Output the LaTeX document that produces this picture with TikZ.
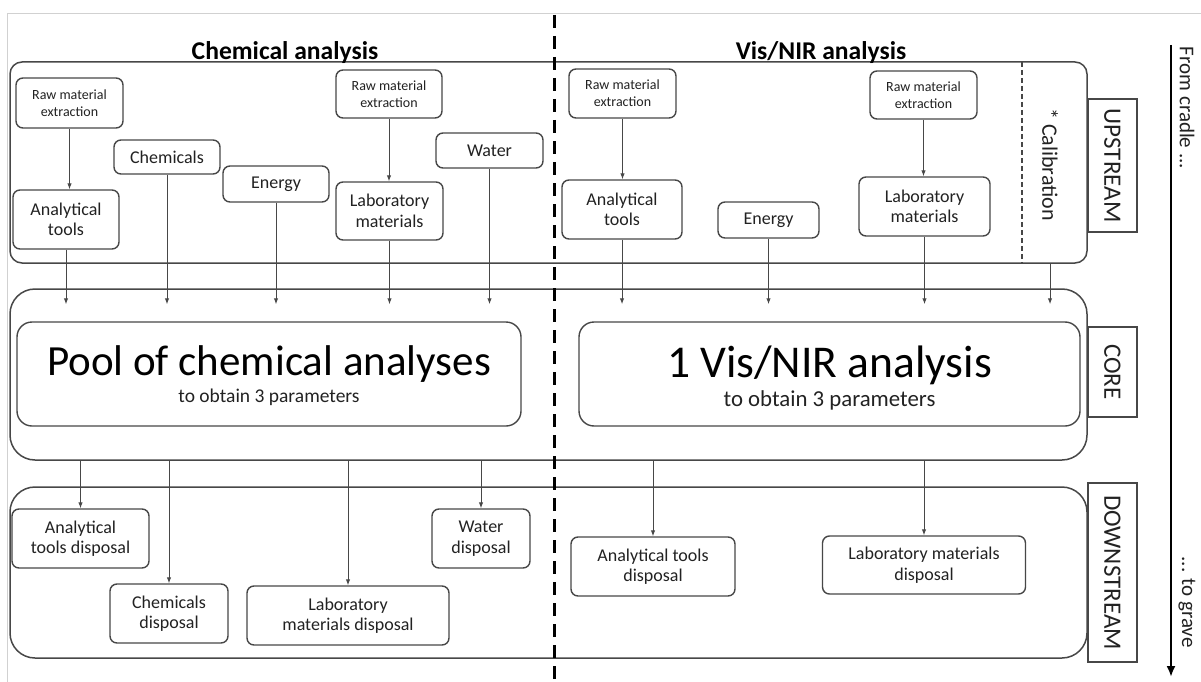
\documentclass[tikz,border=0pt]{standalone}
\usepackage{fontspec}
\setmainfont{Carlito}
\usetikzlibrary{arrows.meta}
\definecolor{ln}{HTML}{474747}
\definecolor{tx}{HTML}{222222}
\begin{document}
\begin{tikzpicture}[x=1pt,y=-1pt,
  box/.style={draw=ln, line width=1.4pt, rounded corners=7pt, inner sep=0pt, align=center, text=tx, font=\fontsize{18}{20.5}\selectfont},
  smallbox/.style={box, font=\fontsize{14}{17}\selectfont},
  cont/.style={draw=ln, line width=1.5pt, inner sep=0pt},
  arr/.style={draw=ln, line width=1pt, -{Latex[length=6pt,width=4.5pt]}},
  lbox/.style={draw=ln, line width=1.4pt, rotate=-90, inner sep=0pt, text=tx, font=\fontsize{25}{28}\selectfont},
  title/.style={anchor=base, text=black, font=\bfseries\fontsize{25.6}{28}\selectfont},
  side/.style={rotate=-90, text=tx, inner sep=0pt, font=\fontsize{21}{23}\selectfont}
]
\useasboundingbox (0,0) rectangle (1201,682);
\fill[white] (0,0) rectangle (1201,682);
\draw[black!18, line width=1pt] (7,682) -- (7,14) -- (1201,14);

% containers
\node[cont, rounded corners=12pt, minimum width=1077pt, minimum height=201pt] (up) at (548.5,162.5) {};
\node[cont, rounded corners=25pt, minimum width=1077pt, minimum height=171pt] (core) at (548.5,374.5) {};
\node[cont, rounded corners=25pt, minimum width=1077pt, minimum height=171pt] (down) at (548.5,572.5) {};

% titles
\node[title] (t1) at (285,60) {Chemical analysis};
\node[title] (t2) at (821,60) {Vis/NIR analysis};

% calibration
\coordinate (calt) at (1022,62);
\coordinate (calb) at (1022,263);
\draw[ln, line width=1.2pt, dash pattern=on 5pt off 3pt] (calt) -- (calb);
\node[side, font=\fontsize{22}{24}\selectfont] (cal) at (1050,164.5) {* Calibration};

% chemical upstream
\node[smallbox, minimum width=107pt, minimum height=50pt] (r1) at (69.5,103) {Raw material\\extraction};
\node[box, minimum width=106pt, minimum height=59pt] (at1) at (66,219.5) {Analytical\\tools};
\node[box, minimum width=106pt, minimum height=34pt] (ch) at (167,157) {Chemicals};
\node[box, minimum width=106pt, minimum height=36pt] (en) at (276,184) {Energy};
\node[smallbox, minimum width=106pt, minimum height=48pt] (r2) at (389,94) {Raw material\\extraction};
\node[box, minimum width=107pt, minimum height=58pt] (lab) at (389.5,211) {Laboratory\\materials};
\node[box, minimum width=107pt, minimum height=35pt] (wa) at (489.5,150.5) {Water};

% vis upstream
\node[smallbox, minimum width=107pt, minimum height=49pt] (vr1) at (622.5,93.5) {Raw material\\extraction};
\node[box, minimum width=120pt, minimum height=59pt] (vat) at (622,209.5) {Analytical\\tools};
\node[box, minimum width=101pt, minimum height=36pt] (ven) at (768.5,220) {Energy};
\node[smallbox, minimum width=107pt, minimum height=48pt] (vr2) at (923.5,95) {Raw material\\extraction};
\node[box, minimum width=131pt, minimum height=59pt] (vlab) at (924.5,206.5) {Laboratory\\materials};

% core
\node[box, rounded corners=15pt, minimum width=504pt, minimum height=104pt] (pool) at (269,374) {};
\node[anchor=base, text=black, font=\fontsize{43}{46}\selectfont] (poolT) at (pool.center |- 0,375) {Pool of chemical analyses};
\node[anchor=base, text=tx, font=\fontsize{19.5}{22}\selectfont] (poolS) at (pool.center |- 0,402.5) {to obtain 3 parameters};
\node[box, rounded corners=15pt, minimum width=501pt, minimum height=104pt] (vis) at (829.5,374) {};
\node[anchor=base, text=black, font=\fontsize{45.5}{48}\selectfont] (visT) at (vis.center |- 0,377) {1 Vis/NIR analysis};
\node[anchor=base, text=tx, font=\fontsize{22.8}{25}\selectfont] (visS) at (vis.center |- 0,406) {to obtain 3 parameters};

% downstream
\node[box, minimum width=137pt, minimum height=59pt] (atd) at (80.5,538.5) {Analytical\\tools disposal};
\node[box, minimum width=118pt, minimum height=59pt] (chd) at (169,613.5) {Chemicals\\disposal};
\node[box, minimum width=202pt, minimum height=59pt] (labd) at (348,615.5) {Laboratory\\materials disposal};
\node[box, minimum width=98pt, minimum height=59pt] (wad) at (481,538.5) {Water\\disposal};
\node[box, minimum width=164pt, minimum height=59pt] (vatd) at (653,566.5) {Analytical tools\\disposal};
\node[box, minimum width=203pt, minimum height=58pt] (vlabd) at (924,565) {Laboratory materials\\disposal};

% stage labels
\node[lbox, minimum width=133pt, minimum height=49pt] (ul) at (1112.5,165.5) {UPSTREAM};
\node[lbox, minimum width=90pt, minimum height=49pt] (cl) at (1112.5,372) {CORE};
\node[lbox, minimum width=179pt, minimum height=49pt] (dl) at (1112.5,572.5) {DOWNSTREAM};

% cradle to grave
\coordinate (gt) at (1171,45);
\coordinate (gb) at (1171,677);
\draw[black, line width=2.6pt, -{Latex[length=11pt,width=9pt]}] (gt) -- (gb);
\node[side] (fc) at (1187,108) {From cradle ...};
\node[side] (tg) at (1187,602) {... to grave};

% arrows upstream internal
\draw[arr] (r1.south) -- (r1.south |- at1.north);
\draw[arr] (r2.south) -- (r2.south |- lab.north);
\draw[arr] (vr1.south) -- (vr1.south |- vat.north);
\draw[arr] (vr2.south) -- (vr2.south |- vlab.north);

% arrows upstream -> core
\foreach \n in {at1,ch,en,lab,wa,vat,ven,vlab}
  \draw[arr, shorten >=-16pt] (\n.south) -- (\n.south |- core.north);
\draw[arr, shorten >=-16pt] (cal |- up.south) -- (cal |- core.north);

% arrows core -> downstream
\foreach \n in {atd,chd,labd,wad,vatd,vlabd}
  \draw[arr] (core.south -| \n.north) -- (\n.north);

% divider
\coordinate (dt) at (554,15);
\coordinate (db) at (554,682);
\draw[black, line width=3pt, dash pattern=on 13pt off 8pt] (dt) -- (db);
\end{tikzpicture}
\end{document}
